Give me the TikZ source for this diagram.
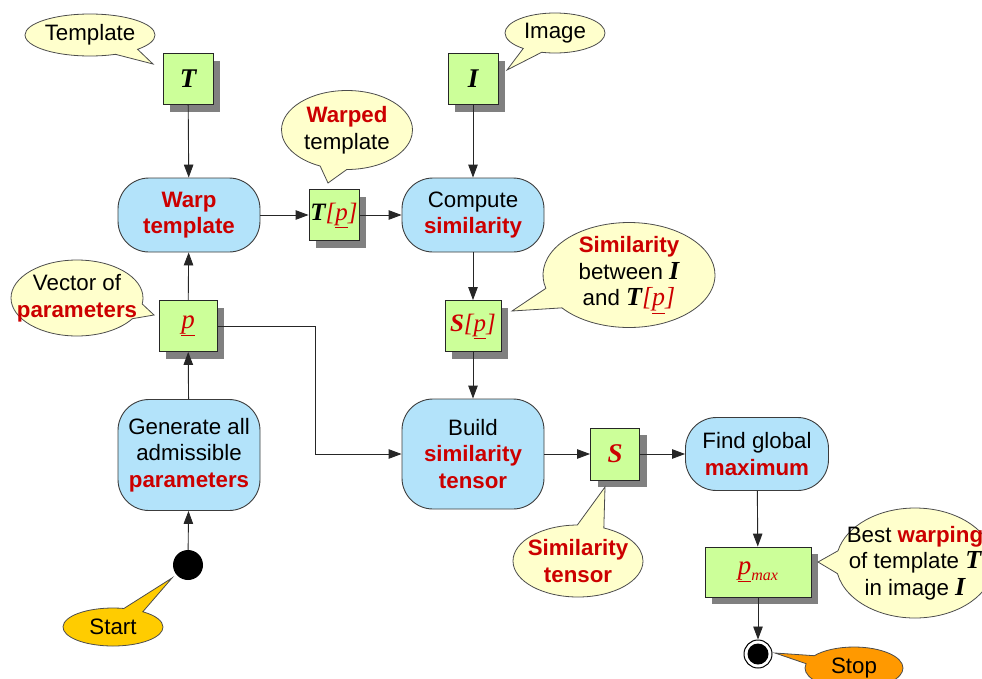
\documentclass[tikz,border=0pt]{standalone}
\usepackage{fontspec}
\setmainfont{Liberation Sans}
\newfontfamily\serifface{Liberation Serif}
\usetikzlibrary{shapes.callouts,shadows,arrows.meta}

\definecolor{procblue}{RGB}{179,227,250}
\definecolor{boxgreen}{RGB}{204,255,153}
\definecolor{noteyellow}{RGB}{255,255,204}
\definecolor{redtxt}{RGB}{204,0,0}
\definecolor{startgold}{RGB}{255,204,0}
\definecolor{stoporange}{RGB}{255,153,0}
\definecolor{shadowgray}{RGB}{128,128,128}
\definecolor{edgegray}{RGB}{60,60,60}

% text helpers
\newcommand{\txtsize}{\fontsize{22.3}{26.5}\selectfont}
\newcommand{\mathsize}{\fontsize{26}{26.5}\selectfont}
\newcommand{\red}[1]{\textcolor{redtxt}{\bfseries #1}}
\newcommand{\serifbi}{\serifface\bfseries\itshape}
\newcommand{\serifit}{\serifface\itshape}
\newcommand{\varT}{{\serifbi T}}
\newcommand{\varI}{{\serifbi I}}
\newcommand{\idxp}{\textcolor{redtxt}{\serifit[\underline{p}]}}
\newcommand{\varp}{\textcolor{redtxt}{\serifit\underline{p}}}

\tikzset{
  proc/.style={draw=edgegray, line width=0.9pt, fill=procblue, rounded corners=31pt,
    minimum width=142pt, minimum height=74pt, align=center, font=\txtsize, inner sep=0pt},
  databox/.style={draw=black!85, line width=0.9pt, fill=boxgreen, inner sep=0pt,
    minimum width=50pt, minimum height=51pt, font=\fontsize{27}{27}\selectfont,
    drop shadow={shadow xshift=7pt, shadow yshift=-7pt, fill=shadowgray, opacity=1}},
  note/.style={ellipse callout, draw=black!70, line width=0.8pt, fill=noteyellow,
    inner sep=0pt, callout pointer arc=24},
  notetext/.style={align=center, font=\txtsize, inner sep=0pt},
  flow/.style={draw=black!85, line width=0.9pt, -{Triangle[length=13pt,width=9.5pt]}},
}

\begin{document}
\begin{tikzpicture}[x=1pt,y=-1pt]
\useasboundingbox (0,0) rectangle (982,678);
\clip (0,0) rectangle (982,678);

% callout pointer tips
\coordinate (tipTpl) at (153,64);
\coordinate (tipWarped) at (328,183);
\coordinate (tipImg) at (507,70);
\coordinate (tipSim) at (512,311);
\coordinate (tipVec) at (154,315);
\coordinate (tipTensor) at (605,487);
\coordinate (tipBest) at (818,562);
\coordinate (tipStop) at (775,653);
\coordinate (tipStart) at (172,578);

% data boxes
\node[databox] (T) at (188,79) {\varT};
\node[databox] (Tp) at (334,215) {\fontsize{25}{25}\selectfont\varT\idxp};
\node[databox] (I) at (473,79) {\varI};
\node[databox, minimum width=56pt] (Sp) at (473,326) {\fontsize{25}{25}\selectfont\textcolor{redtxt}{\serifbi S}\idxp};
\node[databox, minimum width=58pt] (p) at (188,326) {\varp};
\node[databox, minimum width=49pt, minimum height=52pt] (S) at (615,454) {\textcolor{redtxt}{\serifbi S}};
\node[databox, minimum width=106pt, minimum height=50pt] (pmax) at (758,572)
  {\varp\raisebox{-6pt}{\textcolor{redtxt}{\fontsize{16}{16}\selectfont\serifit max}}};

% processes
\node[proc] (warp) at (189,215) {\red{Warp}\\\red{template}};
\node[proc] (compute) at (473,215) {Compute\\\red{similarity}};
\node[proc, minimum height=111pt] (gen) at (189,455) {Generate all\\admissible\\\red{parameters}};
\node[proc, minimum height=110pt] (build) at (473,454) {Build\\\red{similarity}\\\red{tensor}};
\node[proc, minimum width=143pt, minimum height=73pt] (find) at (757,454) {Find global\\\red{maximum}};

% start and stop
\node[circle, fill=black, minimum size=30pt, inner sep=0pt] (start) at (188,565) {};
\node[circle, draw=black, line width=1pt, fill=white, minimum size=28pt, inner sep=0pt] (stop) at (758,654) {};
\fill[black] (stop.center) circle (10.5pt);

% callouts: bubble first, its text on top
\node[note, minimum width=130pt, minimum height=42pt, callout absolute pointer={(tipTpl)}] (nTpl) at (90,35) {};
\node[notetext] (tTpl) at (nTpl.center) {Template};
\node[note, minimum width=131pt, minimum height=79pt, callout absolute pointer={(tipWarped)}] (nWarped) at (347,130) {};
\node[notetext] (tWarped) at (nWarped.center) {\red{Warped}\\template};
\node[note, minimum width=100pt, minimum height=40pt, callout absolute pointer={(tipImg)}] (nImg) at (555,33) {};
\node[notetext] (tImg) at (nImg.center) {Image};
\node[note, minimum width=172pt, minimum height=105pt, callout absolute pointer={(tipSim)}] (nSim) at (629,275) {};
\node[notetext] (tSim) at (nSim.center) {\red{Similarity}\\between {\mathsize\varI}\\and {\mathsize\varT\idxp}};
\node[note, minimum width=132pt, minimum height=76pt, callout absolute pointer={(tipVec)}] (nVec) at (77,298) {};
\node[notetext] (tVec) at (nVec.center) {Vector of\\\red{parameters}};
\node[note, minimum width=130pt, minimum height=72pt, callout absolute pointer={(tipTensor)}] (nTensor) at (578,561) {};
\node[notetext] (tTensor) at (nTensor.center) {\red{Similarity}\\\red{tensor}};
\node[note, minimum width=158pt, minimum height=110pt, callout absolute pointer={(tipBest)}] (nBest) at (915,563) {};
\node[notetext] (tBest) at (nBest.center) {Best \red{warping}\\of template {\mathsize\varT}\\in image {\mathsize\varI}};
\node[note, fill=stoporange, minimum width=98pt, minimum height=42pt, callout absolute pointer={(tipStop)}] (nStop) at (854,668) {};
\node[notetext] (tStop) at (nStop.center) {Stop};
\node[note, fill=startgold, minimum width=100pt, minimum height=38pt, callout absolute pointer={(tipStart)}] (nStart) at (113,627) {};
\node[notetext] (tStart) at (nStart.center) {Start};

% connectors
\draw[flow] (T) -- (warp);
\draw[flow] (warp) -- (Tp);
\draw[flow] (Tp) -- (compute);
\draw[flow] (I) -- (compute);
\draw[flow] (compute) -- (Sp);
\draw[flow] (Sp) -- (build);
\draw[flow] (start) -- (gen);
\draw[flow] (gen) -- (p);
\draw[flow] (p) -- (warp);
\coordinate (bend) at (315,326);
\draw[flow] (p.east) -- (bend) |- (build.west);
\draw[flow] (build) -- (S);
\draw[flow] (S) -- (find);
\draw[flow] (find) -- (pmax);
\draw[flow] (pmax) -- (stop);
\end{tikzpicture}
\end{document}
